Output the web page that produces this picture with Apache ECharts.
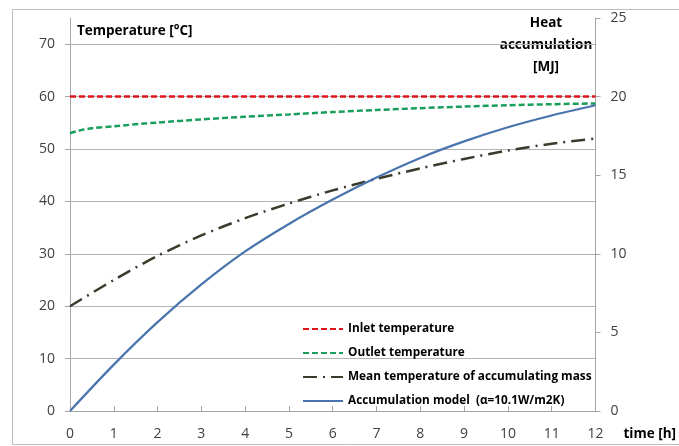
<!DOCTYPE html>
<html>
<head>
<meta charset="utf-8">
<script src="https://cdn.jsdelivr.net/npm/echarts@6/dist/echarts.min.js"></script>
<style>
html,body{margin:0;padding:0;background:#fff;}
#chart{width:679px;height:446px;}
</style>
</head>
<body>
<div id="chart"></div>
<script>
// ---- data ----
var seriesNames = ['Inlet temperature', 'Outlet temperature', 'Mean temperature of accumulating mass', 'Accumulation model  (\u03b1=10.1W/m2K)'];
var inletHours = [0, 12];
var inletTemp = [60, 60];
var outletHours = [0, 0.25, 0.5, 1, 2, 3, 4, 5, 6, 7, 8, 9, 10, 11, 12];
var outletTemp = [53.0, 53.6, 53.95, 54.35, 55.05, 55.65, 56.15, 56.6, 57.05, 57.45, 57.8, 58.1, 58.35, 58.55, 58.7];
var meanHours = [0, 1, 2, 3, 4, 5, 6, 7, 8, 9, 10, 11, 12];
var meanTemp = [20.0, 25.0, 29.6, 33.5, 36.8, 39.6, 42.1, 44.3, 46.3, 48.1, 49.7, 51.0, 52.0];
var accHours = [0, 1, 2, 3, 4, 5, 6, 7, 8, 9, 10, 11, 12];
var accMJ = [0, 2.95, 5.65, 8.05, 10.15, 11.9, 13.45, 14.85, 16.1, 17.15, 18.05, 18.8, 19.45];
var xTicks = [0, 12, 1];
var leftTicks = [0, 75, 10];
var rightTicks = [0, 25, 5];

function pairs(xs, ys) { return xs.map(function (x, i) { return [x, ys[i]]; }); }

var FONT = 'Open Sans';
var axisGray = '#a6a6a6';
var labelColor = '#404040';

var chart = echarts.init(document.getElementById('chart'), null, {renderer: 'canvas'});
chart.setOption({
  animation: false,
  backgroundColor: '#fff',
  textStyle: {fontFamily: FONT},
  grid: {left: 70, right: 82, top: 18, bottom: 35, containLabel: false},
  xAxis: {
    type: 'value', min: xTicks[0], max: xTicks[1], interval: xTicks[2],
    name: 'time [h]', nameLocation: 'end', nameGap: 0,
    nameTextStyle: {fontFamily: FONT, fontWeight: 'bold', fontSize: 13.5, color: '#000', align: 'left', verticalAlign: 'top', padding: [16, 0, 0, 28]},
    axisLine: {show: true, lineStyle: {color: axisGray, width: 1}},
    axisTick: {show: true, inside: true, length: 5, lineStyle: {color: axisGray}},
    axisLabel: {fontFamily: FONT, fontSize: 14, color: labelColor, margin: 16},
    splitLine: {show: false}
  },
  yAxis: [{
    type: 'value', position: 'left', min: leftTicks[0], max: leftTicks[1], interval: leftTicks[2],
    axisLine: {show: true, lineStyle: {color: axisGray, width: 1}},
    axisTick: {show: true, inside: false, length: 5, lineStyle: {color: axisGray}},
    axisLabel: {fontFamily: FONT, fontSize: 14, color: labelColor, margin: 15, showMaxLabel: false},
    splitLine: {show: true, showMaxLine: false, lineStyle: {color: '#b4b4b4', width: 1}}
  }, {
    type: 'value', position: 'right', min: rightTicks[0], max: rightTicks[1], interval: rightTicks[2],
    axisLine: {show: true, lineStyle: {color: axisGray, width: 1}},
    axisTick: {show: true, inside: false, length: 5, lineStyle: {color: axisGray}},
    axisLabel: {fontFamily: FONT, fontSize: 14, color: labelColor, margin: 15},
    splitLine: {show: false}
  }],
  legend: {
    orient: 'vertical', left: 302, top: 323, padding: 0, itemGap: 12, itemWidth: 40, itemHeight: 12,
    textStyle: {fontFamily: FONT, fontWeight: 'bold', fontSize: 11.8, color: '#000'},
    itemStyle: {opacity: 0},
    data: seriesNames
  },
  graphic: [
    {type: 'rect', shape: {x: 12.5, y: 9.5, width: 700, height: 435}, style: {fill: 'none', stroke: '#bdbdbd', lineWidth: 1}, silent: true, z: -1},
    {type: 'text', x: 77, y: 24, style: {text: 'Temperature [\u00b0C]', fontFamily: FONT, fontWeight: 'bold', fontSize: 13.5, fill: '#000'}},
    {type: 'text', x: 546, y: 12, style: {text: 'Heat\naccumulation\n[MJ]', align: 'center', lineHeight: 22, fontFamily: FONT, fontWeight: 'bold', fontSize: 13.5, fill: '#000'}}
  ],
  series: [{
    name: seriesNames[0], type: 'line', yAxisIndex: 0, showSymbol: false, symbol: 'none',
    data: pairs(inletHours, inletTemp),
    lineStyle: {color: '#e0131b', width: 2.5, type: [6, 3]}, itemStyle: {color: '#e0131b'}
  }, {
    name: seriesNames[1], type: 'line', yAxisIndex: 0, showSymbol: false, symbol: 'none', smooth: 0.3,
    data: pairs(outletHours, outletTemp),
    lineStyle: {color: '#1a9e5c', width: 2.5, type: [6, 3]}, itemStyle: {color: '#1a9e5c'}
  }, {
    name: seriesNames[2], type: 'line', yAxisIndex: 0, showSymbol: false, symbol: 'none', smooth: 0.3,
    data: pairs(meanHours, meanTemp),
    lineStyle: {color: '#3b3a2b', width: 2.5, type: [14, 6, 2, 6]}, itemStyle: {color: '#3b3a2b'}
  }, {
    name: seriesNames[3], type: 'line', yAxisIndex: 1, showSymbol: false, symbol: 'none', smooth: 0.3,
    data: pairs(accHours, accMJ),
    lineStyle: {color: '#4a74ad', width: 2.2, type: 'solid'}, itemStyle: {color: '#4a74ad'}
  }]
});
</script>
</body>
</html>
